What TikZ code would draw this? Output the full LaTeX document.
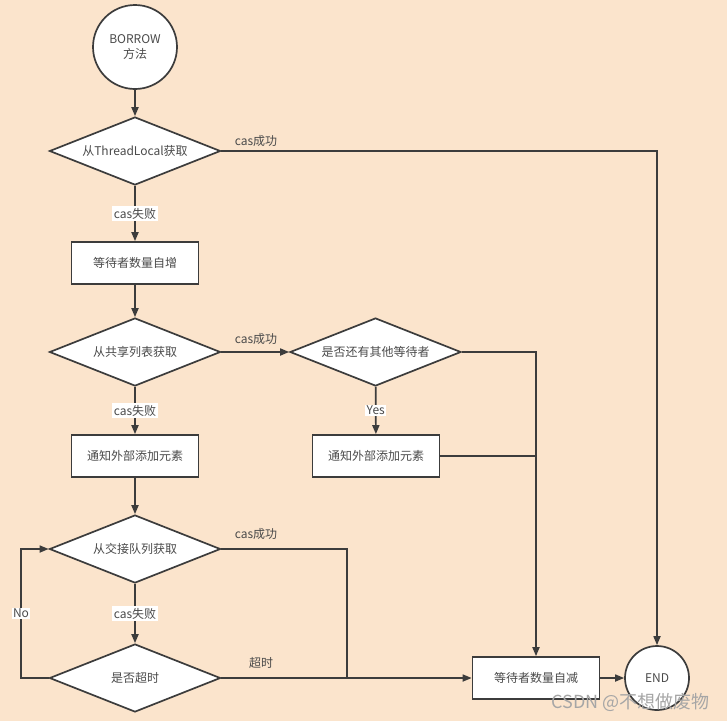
\documentclass[tikz,border=0pt]{standalone}
\usepackage{fontspec}
\setmainfont{Noto Sans CJK SC}
\usetikzlibrary{arrows.meta, shapes.geometric, positioning}

\definecolor{peach}{HTML}{FBE4CC}
\definecolor{ink}{HTML}{3C3C3C}
\definecolor{txt}{HTML}{4A4A4A}

\begin{document}
\begin{tikzpicture}[x=1pt, y=-1pt,
        every node/.style={text=txt, font=\fontsize{12}{14.5}\selectfont},
        flow/.style={draw=ink, line width=1.7pt},
        arr/.style={flow, -{Triangle[length=9pt,width=7pt]}},
        rnd/.style={circle, draw=ink, line width=1.7pt, fill=white, inner sep=0pt, align=center},
        dec/.style={diamond, draw=ink, line width=1.7pt, fill=white, aspect=2.5, inner sep=0pt,
                    minimum width=171pt, minimum height=68pt},
        act/.style={rectangle, draw=ink, line width=1.7pt, fill=white, minimum width=127pt, minimum height=42pt},
        tag/.style={fill=white, inner sep=1.5pt},
        lbl/.style={inner sep=0pt}]

            \fill[peach] (0,0) rectangle (727,721);
            \useasboundingbox (0,0) rectangle (727,721);

            \node[rnd, minimum size=84pt] (start) at (135,47) {BORROW\\方法};
            \node[dec] (d1) at (135,151) {从ThreadLocal获取};
            \node[act] (b1) at (135,263) {等待者数量自增};
            \node[dec] (d2) at (135,352) {从共享列表获取};
            \node[dec] (d3) at (375.5,352) {是否还有其他等待者};
            \node[act] (b2) at (135,456) {通知外部添加元素};
            \node[act] (b3) at (376,456) {通知外部添加元素};
            \node[dec] (d4) at (135,549) {从交接队列获取};
            \node[dec] (d5) at (135,678) {是否超时};
            \node[act] (b4) at (536,678) {等待者数量自减};
            \node[rnd, minimum size=64pt] (endc) at (657,678) {END};

            \foreach \a/\b in {start/d1, b1/d2, b2/d4, b4/endc}
            {
                \draw[arr] (\a) -- (\b);
            }
            \draw[arr] (d1) -- node[tag] {cas失败} (b1);
            \draw[arr] (d2) -- node[tag] {cas失败} (b2);
            \draw[arr] (d4) -- node[tag] {cas失败} (d5);
            \draw[arr] (d3) -- node[tag] {Yes} (b3);

            \node[lbl] (s1) at (256,141) {cas成功};
            \node[lbl] (s2) at (256,339) {cas成功};
            \node[lbl] (s3) at (256,534) {cas成功};
            \node[lbl] (t1) at (261,663) {超时};

            %%%%%%%%%%%%%%%%%%%%%%%%%%%%%%%%%%%%%%%%%%%%%%%%%%%%%%%%%%%%%
            \draw[arr] (d1.east) -| (endc.north);
            \draw[arr] (d2.east) -- (d3.west);
            \draw[arr] (d3.east) -| (b4.north);
            \draw[flow] (b3.east) -- (b3.east -| b4.north);

            \coordinate (j1) at (347,678);
            \draw[flow] (d4.east) -| (j1);
            \draw[arr] (d5.east) -- (b4.west);

            \coordinate (n1) at (21,678);
            \coordinate (n2) at (21,549);
            \draw[arr] (d5.west) -- (n1) -- node[tag] {No} (n2) -- (d4.west);

            \node[text=black!35, font=\fontsize{18}{21}\selectfont, anchor=east] (wm) at (713,702) {CSDN @不想做废物};

\end{tikzpicture}
\end{document}
